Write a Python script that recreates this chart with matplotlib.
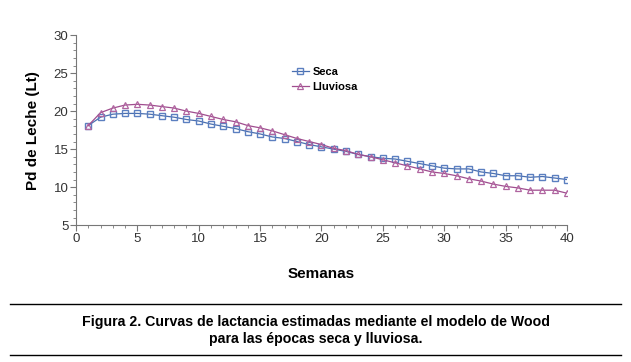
import matplotlib
matplotlib.use("Agg")
import matplotlib.pyplot as plt
from matplotlib.ticker import MultipleLocator

plt.rcParams["font.family"] = ["Liberation Sans", "DejaVu Sans"]

semanas = list(range(1, 41))
seca = [18.1, 19.2, 19.6, 19.7, 19.7, 19.6, 19.4, 19.2, 18.9, 18.7,
        18.3, 18.0, 17.7, 17.3, 17.0, 16.6, 16.4, 16.0, 15.6, 15.3,
        15.0, 14.7, 14.3, 14.0, 13.8, 13.7, 13.4, 13.1, 12.8, 12.5,
        12.4, 12.4, 12.0, 11.8, 11.5, 11.5, 11.3, 11.4, 11.2, 11.0]
lluviosa = [18.1, 19.8, 20.4, 20.8, 20.9, 20.8, 20.6, 20.4, 20.0, 19.7,
            19.3, 18.9, 18.6, 18.1, 17.8, 17.4, 16.9, 16.4, 16.0, 15.6,
            15.1, 14.8, 14.3, 14.0, 13.6, 13.2, 12.8, 12.4, 12.0, 11.8,
            11.5, 11.1, 10.8, 10.4, 10.1, 9.9, 9.6, 9.6, 9.6, 9.2]

fig = plt.figure(figsize=(6.31, 3.62), dpi=100)
ax = fig.add_axes([0.1204, 0.378, 0.7782, 0.525])

ax.plot(semanas, seca, "-s", color="#4a6fb0", lw=0.9, ms=4,
        mfc="none", mec="#5b7fc0", mew=1.0, label="Seca")
ax.plot(semanas, lluviosa, "-^", color="#a04d8f", lw=0.9, ms=4,
        mfc="none", mec="#b065a0", mew=0.9, label="Lluviosa")

ax.set_xlim(0, 40)
ax.set_ylim(5, 30)
ax.xaxis.set_major_locator(MultipleLocator(5))
ax.xaxis.set_minor_locator(MultipleLocator(1))
ax.yaxis.set_major_locator(MultipleLocator(5))
ax.yaxis.set_minor_locator(MultipleLocator(1))
for s in ("top", "right"):
    ax.spines[s].set_visible(False)
for s in ("left", "bottom"):
    ax.spines[s].set_color("#777777")
    ax.spines[s].set_linewidth(0.8)
ax.tick_params(which="major", length=4, color="#777777", labelsize=9.5,
               labelcolor="#333333", pad=1.5)
ax.tick_params(which="minor", length=2, color="#777777")

ax.set_ylabel("Pd de Leche (Lt)", fontsize=11, fontweight="bold", labelpad=10)
ax.set_xlabel("Semanas", fontsize=11, fontweight="bold", labelpad=16)

ax.legend(loc="upper left", bbox_to_anchor=(0.43, 0.855), frameon=False,
          prop={"weight": "bold", "size": 8}, handlelength=1.6,
          handletextpad=0.3, labelspacing=0.45, borderaxespad=0)

fig.add_artist(plt.Line2D([0.016, 0.984], [1 - 304 / 362, 1 - 304 / 362],
                          color="black", lw=1.0))
fig.add_artist(plt.Line2D([0.016, 0.984], [1 - 355 / 362, 1 - 355 / 362],
                          color="black", lw=1.0))
fig.text(0.5, 1 - 322 / 362, "Figura 2. Curvas de lactancia estimadas mediante el modelo de Wood",
         ha="center", va="center", fontsize=10.2, fontweight="bold")
fig.text(0.5, 1 - 339 / 362, "para las épocas seca y lluviosa.",
         ha="center", va="center", fontsize=10.2, fontweight="bold")

fig.savefig("out.png", dpi=100)
